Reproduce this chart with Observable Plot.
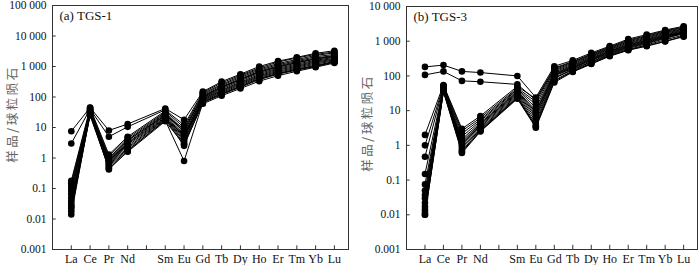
<!DOCTYPE html>
<html>
<head>
<meta charset="utf-8">
<script src="https://cdn.jsdelivr.net/npm/d3@7"></script>
<script src="https://cdn.jsdelivr.net/npm/@observablehq/plot@0.6"></script>
<style>
  html, body { margin: 0; padding: 0; background: #fff; }
  #wrap { display: flex; width: 700px; height: 265px; }
  .cell { position: relative; width: 350px; height: 265px; }
  .cell svg { display: block; }
  .ytitle {
    position: absolute;
    font-family: "Noto Sans CJK SC", sans-serif;
    font-size: 12.5px;
    letter-spacing: 2.5px;
    color: #666;
    white-space: nowrap;
    transform: translate(-50%, -50%) rotate(-90deg);
    line-height: 1;
  }
</style>
</head>
<body>
<div id="wrap"></div>
<script>
// Rare earth element order (Pm has no data, only a tick)
const ree = ["La","Ce","Pr","Nd","Pm","Sm","Eu","Gd","Tb","Dy","Ho","Er","Tm","Yb","Lu"];
const measured = ["La","Ce","Pr","Nd","Sm","Eu","Gd","Tb","Dy","Ho","Er","Tm","Yb","Lu"];

const yTitle = "样品/球粒陨石";
const titleA = "(a) TGS-1";
const titleB = "(b) TGS-3";

const yTicksA = [0.001, 0.01, 0.1, 1, 10, 100, 1000, 10000, 100000];
const yTickLabelsA = ["0.001", "0.01", "0.1", "1", "10", "100", "1 000", "10 000", "100 000"];
const yTicksB = [0.001, 0.01, 0.1, 1, 10, 100, 1000, 10000];
const yTickLabelsB = ["0.001", "0.01", "0.1", "1", "10", "100", "1 000", "10 000"];

// Panel (a) TGS-1: chondrite-normalised values, order = measured
const a01 = [7.5, 45, 8, 13, 42, 18, 150, 320, 560, 1000, 1500, 2000, 2700, 3300];
const a02 = [3, 40, 5, 10.5, 38, 12, 140, 290, 520, 900, 1400, 1900, 2500, 3000];
const a03 = [0.18, 44, 1.3, 5, 35, 10, 130, 260, 480, 830, 1250, 1700, 2300, 2800];
const a04 = [0.15, 40, 1.15, 4.5, 32, 8, 120, 240, 440, 760, 1150, 1550, 2100, 2500];
const a05 = [0.12, 37, 1.0, 4, 30, 7, 110, 220, 400, 700, 1050, 1450, 1900, 2300];
const a06 = [0.1, 35, 0.9, 3.6, 28, 6, 100, 200, 370, 640, 950, 1300, 1750, 2100];
const a07 = [0.08, 33, 0.8, 3.2, 26, 5, 95, 185, 340, 590, 880, 1200, 1600, 2000];
const a08 = [0.065, 32, 0.75, 3, 24, 4.5, 90, 170, 310, 540, 820, 1100, 1500, 1850];
const a09 = [0.05, 30, 0.7, 2.8, 22, 4, 85, 160, 290, 500, 760, 1020, 1400, 1750];
const a10 = [0.04, 29, 0.65, 2.5, 21, 3.5, 80, 150, 270, 470, 700, 950, 1300, 1650];
const a11 = [0.033, 28, 0.6, 2.2, 20, 3, 75, 140, 250, 440, 650, 880, 1200, 1550];
const a12 = [0.027, 27, 0.55, 2, 19, 2.5, 70, 130, 230, 410, 600, 820, 1100, 1450];
const a13 = [0.022, 26, 0.5, 1.8, 17, 0.8, 65, 120, 210, 370, 560, 760, 1000, 1380];
const a14 = [0.018, 25, 0.45, 1.6, 16, 2.8, 60, 110, 190, 330, 500, 700, 950, 1300];
const a15 = [0.014, 30, 0.42, 1.7, 18, 6, 68, 125, 220, 390, 580, 790, 1050, 1400];
const a16 = [0.025, 34, 0.85, 3.8, 25, 9, 105, 210, 380, 660, 1000, 1350, 1800, 2200];

// Panel (b) TGS-3
const b01 = [182, 205, 135, 125, 100, 24, 190, 280, 460, 720, 1150, 1550, 2100, 2700];
const b02 = [107, 135, 72, 68, 57, 20, 170, 260, 430, 680, 1080, 1450, 2000, 2550];
const b03 = [2.0, 55, 3.0, 7, 50, 22, 160, 250, 410, 650, 1020, 1380, 1900, 2450];
const b04 = [1.0, 52, 2.6, 6.2, 45, 18, 150, 235, 390, 620, 960, 1300, 1800, 2300];
const b05 = [0.47, 50, 2.2, 5.5, 42, 15, 140, 220, 370, 590, 900, 1230, 1700, 2200];
const b06 = [0.15, 48, 1.8, 5, 40, 12, 130, 205, 350, 560, 850, 1160, 1600, 2100];
const b07 = [0.075, 46, 1.5, 4.5, 37, 10, 120, 195, 330, 530, 800, 1100, 1520, 2000];
const b08 = [0.05, 45, 1.3, 4.2, 35, 9, 115, 185, 315, 510, 770, 1050, 1450, 1900];
const b09 = [0.037, 43, 1.2, 4, 33, 8, 110, 175, 300, 490, 740, 1000, 1400, 1850];
const b10 = [0.03, 42, 1.1, 3.7, 31, 7, 105, 170, 290, 470, 710, 960, 1350, 1800];
const b11 = [0.022, 40, 1.0, 3.4, 29, 6, 100, 165, 280, 450, 680, 920, 1300, 1750];
const b12 = [0.017, 39, 0.9, 3.1, 27, 5, 90, 155, 260, 430, 650, 880, 1250, 1700];
const b13 = [0.014, 38, 0.8, 2.9, 25, 4.2, 85, 150, 250, 410, 620, 840, 1200, 1650];
const b14 = [0.012, 37, 0.7, 2.7, 24, 3.6, 75, 140, 235, 390, 580, 780, 1100, 1500];
const b15 = [0.01, 35, 0.6, 2.5, 22, 3.2, 65, 130, 220, 370, 550, 720, 980, 1350];
const b16 = [0.01, 36, 0.65, 2.6, 23, 3.5, 70, 135, 225, 380, 560, 740, 1000, 1400];

const samplesA = [a01,a02,a03,a04,a05,a06,a07,a08,a09,a10,a11,a12,a13,a14,a15,a16];
const samplesB = [b01,b02,b03,b04,b05,b06,b07,b08,b09,b10,b11,b12,b13,b14,b15,b16];

function rows(samples) {
  const out = [];
  samples.forEach((vals, s) => {
    vals.forEach((v, i) => {
      out.push({sample: s, el: measured[i], pos: ree.indexOf(measured[i]) + 1, v});
    });
  });
  return out;
}

const xPositions = ree.map((e, i) => i + 1);
const SERIF = "'Liberation Serif', 'Times New Roman', serif";

function panel({samples, yTicks, yTickLabels, title, marginLeft, marginRight, marginTop}) {
  const data = rows(samples);
  const yMin = yTicks[0], yMax = yTicks[yTicks.length - 1];
  return Plot.plot({
    width: 350,
    height: 265,
    marginLeft, marginRight, marginTop,
    marginBottom: 16,
    style: {fontFamily: SERIF, fontSize: "11px", color: "#222", background: "#fff"},
    x: {domain: [0, 15.75]},
    y: {type: "log", domain: [yMin, yMax]},
    marks: [
      Plot.frame({stroke: "#333", strokeWidth: 1}),
      Plot.axisY(yTicks, {tickSize: 0, tickPadding: 6, tickFormat: d => yTickLabels[yTicks.indexOf(d)], fontSize: 11.5, fontFamily: SERIF, fill: "#111", label: null}),
      Plot.axisX(xPositions, {tickSize: 0, tickPadding: 5, tickFormat: d => (ree[d - 1] === "Pm" ? "" : ree[d - 1]), fontSize: 12, fontFamily: SERIF, fill: "#111", label: null}),
      Plot.ruleY(yTicks, {y: d => d, x1: 0, x2: 0.2, stroke: "#333"}),
      Plot.ruleX(xPositions, {x: d => d, y1: yMin, y2: yMin * 1.32, stroke: "#333"}),
      Plot.line(data, {x: "pos", y: "v", z: "sample", stroke: "#000", strokeWidth: 1}),
      Plot.dot(data, {x: "pos", y: "v", r: 3.3, fill: "#000", stroke: "none"}),
      Plot.text([title], {frameAnchor: "top-left", dx: 7, dy: 5, textAnchor: "start", lineAnchor: "top", fontSize: 13, fontFamily: SERIF, fill: "#111"})
    ]
  });
}

function cell(svg, cx, cy) {
  const div = document.createElement("div");
  div.className = "cell";
  div.appendChild(svg);
  const t = document.createElement("div");
  t.className = "ytitle";
  t.textContent = yTitle;
  t.style.left = cx + "px";
  t.style.top = cy + "px";
  div.appendChild(t);
  return div;
}

const wrap = document.getElementById("wrap");
wrap.appendChild(cell(panel({samples: samplesA, yTicks: yTicksA, yTickLabels: yTickLabelsA, title: titleA, marginLeft: 52, marginRight: 2, marginTop: 5}), 12, 114));
wrap.appendChild(cell(panel({samples: samplesB, yTicks: yTicksB, yTickLabels: yTickLabelsB, title: titleB, marginLeft: 56, marginRight: 3, marginTop: 6}), 17, 123));
</script>
</body>
</html>
